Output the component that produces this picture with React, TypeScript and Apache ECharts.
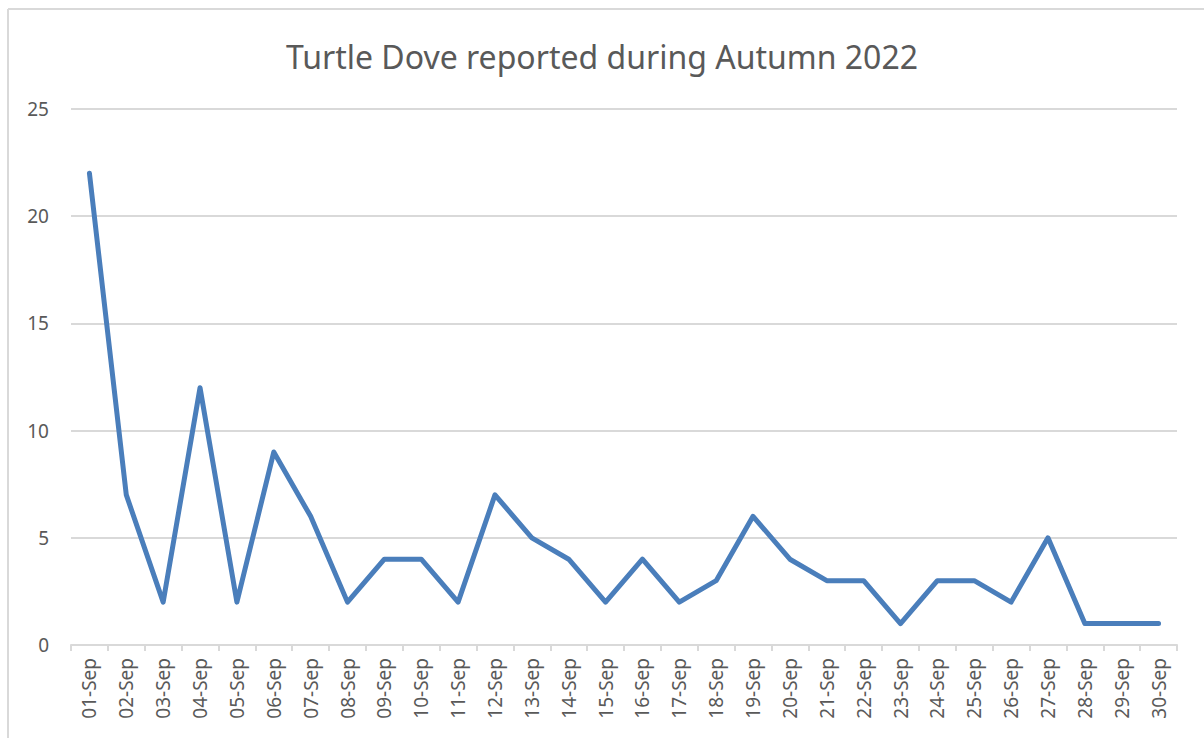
import React, { useEffect, useRef } from "react";
import * as echarts from "echarts";

const categories = ["01-Sep","02-Sep","03-Sep","04-Sep","05-Sep","06-Sep","07-Sep","08-Sep","09-Sep","10-Sep","11-Sep","12-Sep","13-Sep","14-Sep","15-Sep","16-Sep","17-Sep","18-Sep","19-Sep","20-Sep","21-Sep","22-Sep","23-Sep","24-Sep","25-Sep","26-Sep","27-Sep","28-Sep","29-Sep","30-Sep"];
const counts = [22,7,2,12,2,9,6,2,4,4,2,7,5,4,2,4,2,3,6,4,3,3,1,3,3,2,5,1,1,1];
const titleText = "Turtle Dove reported during Autumn 2022";

export default function App() {
  const ref = useRef<HTMLDivElement>(null);
  useEffect(() => {
    const chart = echarts.init(ref.current!, null, { renderer: "svg" });
    chart.setOption({
      animation: false,
      backgroundColor: "#ffffff",
      title: {
        text: titleText,
        left: "center",
        top: 35,
        textStyle: { fontFamily: "Noto Sans", fontSize: 32, fontWeight: "normal", color: "#595959" },
      },
      graphic: [
        { type: "line", shape: { x1: 8, y1: 9, x2: 1204, y2: 9 }, style: { stroke: "#d9d9d9", lineWidth: 2 } },
        { type: "line", shape: { x1: 8, y1: 9, x2: 8, y2: 738 }, style: { stroke: "#d9d9d9", lineWidth: 2 } },
      ],
      grid: { left: 71, right: 27, top: 109, bottom: 93 },
      xAxis: {
        type: "category",
        data: categories,
        boundaryGap: true,
        axisLine: { lineStyle: { color: "#d9d9d9", width: 2 } },
        axisTick: { show: true, length: 6, lineStyle: { color: "#d9d9d9", width: 2 } },
        axisLabel: { rotate: 90, margin: 13, fontFamily: "Noto Sans", fontSize: 19, color: "#595959" },
      },
      yAxis: {
        type: "value",
        min: 0,
        max: 25,
        interval: 5,
        axisLine: { show: false },
        axisTick: { show: false },
        splitLine: { lineStyle: { color: "#d9d9d9", width: 2 } },
        axisLabel: { margin: 22, fontFamily: "Noto Sans", fontSize: 19, color: "#595959" },
      },
      series: [
        {
          type: "line",
          data: counts,
          showSymbol: false,
          lineStyle: { color: "#4a7ebb", width: 5, cap: "round", join: "round" },
        },
      ],
    });
    return () => chart.dispose();
  }, []);
  return <div ref={ref} style={{ position: "fixed", left: 0, top: 0, width: 1204, height: 738 }} />;
}
